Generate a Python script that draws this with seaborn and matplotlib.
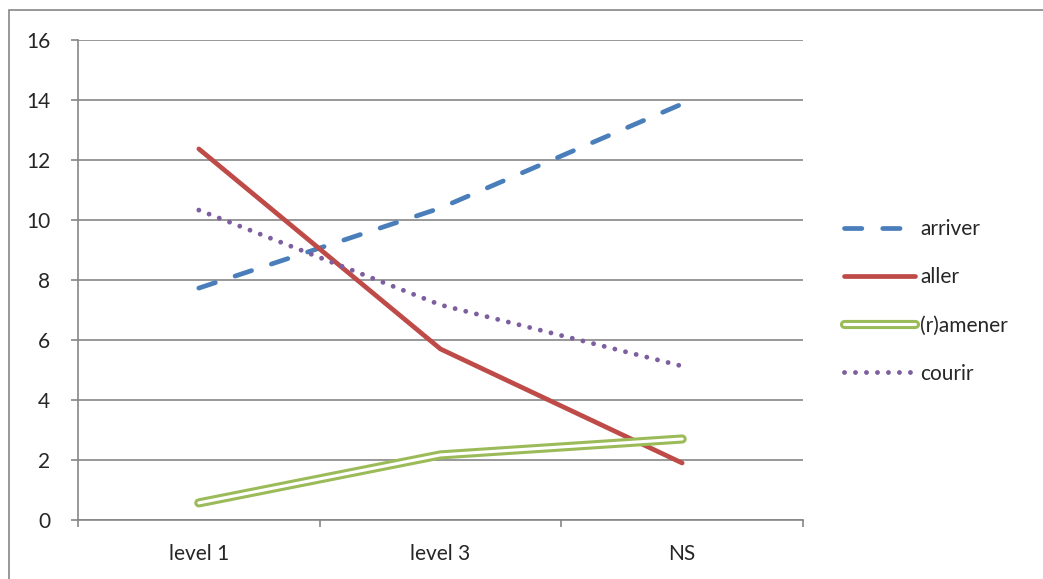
import matplotlib
matplotlib.use("Agg")
import matplotlib.pyplot as plt
import matplotlib.patheffects as pe
import pandas as pd
import seaborn as sns

# data
levels = ["level 1", "level 3", "NS"]
arriver = [7.73, 10.4, 13.87]
aller = [12.37, 5.7, 1.9]
ramener = [0.57, 2.17, 2.7]
courir = [10.33, 7.17, 5.13]

sns.set_style("white")
plt.rcParams['font.family'] = ['Lato', 'DejaVu Sans']
plt.rcParams['lines.scale_dashes'] = False

grey = '#868686'
fs = 15
fig = plt.figure(figsize=(10.43, 5.79), dpi=100)
ax = fig.add_axes([78 / 1043, 59 / 579, 725 / 1043, 480 / 579])

# cadre du graphique
fig.patches.append(plt.Rectangle((9 / 1043, -0.1), 1.2, (569 / 579) + 0.1,
                                 transform=fig.transFigure, fill=False,
                                 edgecolor=grey, linewidth=1.2))

df = pd.DataFrame({"level": levels * 4,
                   "value": arriver + aller + ramener + courir,
                   "verb": ["arriver"] * 3 + ["aller"] * 3 + ["(r)amener"] * 3 + ["courir"] * 3})

styles = {
    "arriver": dict(color='#4A7EBB', linewidth=3.4, dashes=(12.5, 15), dash_capstyle='round'),
    "aller": dict(color='#BE4B48', linewidth=3.4, solid_capstyle='round'),
    "(r)amener": dict(color='white', linewidth=2.2, solid_capstyle='round',
                      path_effects=[pe.Stroke(linewidth=6.6, foreground='#9BBB59'), pe.Normal()]),
    "courir": dict(color='#7D5FA0', linewidth=3.5, dashes=(0.01, 7.9), dash_capstyle='round'),
}

for verb, kw in styles.items():
    sub = df[df["verb"] == verb]
    sns.lineplot(data=sub, x="level", y="value", ax=ax, label=verb, sort=False, **kw)

# axes
ax.set_xlim(-0.5, 2.5)
ax.set_ylim(0, 16)
ax.set_yticks(range(0, 17, 2))
ax.set_xticks([0, 1, 2])
ax.set_xticklabels(levels)
ax.set_xticks([-0.5, 0.5, 1.5, 2.5], minor=True)
ax.set_xlabel("")
ax.set_ylabel("")
ax.grid(axis='y', color=grey, linewidth=1.2)
ax.set_axisbelow(True)
for s in ['top', 'right']:
    ax.spines[s].set_visible(False)
for s in ['left', 'bottom']:
    ax.spines[s].set_color(grey)
    ax.spines[s].set_linewidth(1.2)
ax.tick_params(axis='y', length=5, color=grey, width=1.2, labelsize=fs, pad=15, left=True)
ax.tick_params(axis='x', which='major', length=0, labelsize=fs, pad=17)
ax.tick_params(axis='x', which='minor', length=5, color=grey, width=1.2, bottom=True)

leg = ax.legend(loc='upper left', bbox_to_anchor=(836 / 1043, (579 - 211) / 579),
                bbox_transform=fig.transFigure, frameon=False, fontsize=fs,
                handlelength=3.4, handletextpad=0.25, labelspacing=1.35, borderaxespad=0)

fig.savefig("out.png", dpi=100)
